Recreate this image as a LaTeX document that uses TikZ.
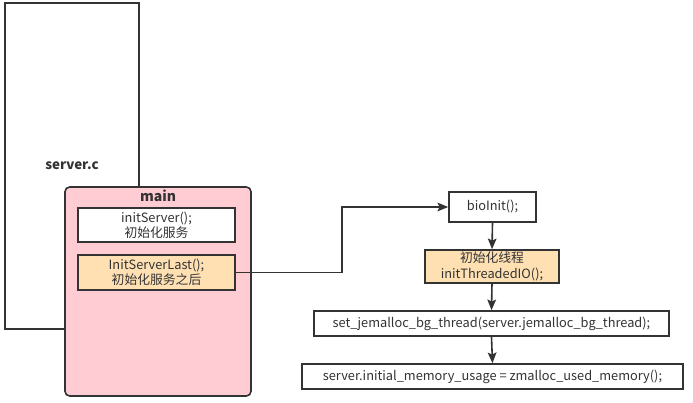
\documentclass[tikz,border=0pt]{standalone}
\usepackage{fontspec}
\setmainfont{Noto Sans CJK SC}
\usetikzlibrary{arrows.meta}
\definecolor{ln}{HTML}{333333}
\definecolor{pinkf}{HTML}{FFCCD3}
\definecolor{orf}{HTML}{FFE0B3}
\tikzset{
  box/.style={draw=ln,line width=1.2pt,rectangle,inner sep=0pt,align=center,text=ln,font=\fontsize{9.6}{11.5}\selectfont},
  arr/.style={draw=ln,line width=1.2pt,-{Stealth[length=8pt,width=6.5pt,inset=1.5pt]}},
}
\begin{document}
\begin{tikzpicture}[x=0.75pt,y=-0.75pt]
\useasboundingbox (0,0) rectangle (693,403);
\node[box,fill=white,minimum width=100.5pt,minimum height=244.5pt,font=\fontsize{10}{12}\selectfont\bfseries] (srv) at (72,166) {server.c};
\node[box,fill=pinkf,rounded corners=3.5pt,minimum width=139.5pt,minimum height=156.75pt] (main) at (158,291.5) {};
\node[text=ln,font=\fontsize{10.5}{12}\selectfont\bfseries,anchor=north,inner sep=2.2pt] (maintitle) at (main.north) {main};
\node[box,fill=white,minimum width=117.75pt,minimum height=25.5pt] (is) at (156.5,225) {initServer();\\初始化服务};
\node[box,fill=orf,minimum width=117.75pt,minimum height=26.25pt] (isl) at (156.5,272.5) {InitServerLast();\\初始化服务之后};
\node[box,fill=white,minimum width=65.25pt,minimum height=22.5pt] (bio) at (492.5,207) {bioInit();};
\node[box,fill=orf,minimum width=100.5pt,minimum height=24.75pt] (tio) at (492,266.5) {初始化线程\\initThreadedIO();};
\node[box,fill=white,minimum width=266.25pt,minimum height=18.75pt] (jem) at (491.5,323.5) {set\_jemalloc\_bg\_thread(server.jemalloc\_bg\_thread);};
\node[box,fill=white,minimum width=285.75pt,minimum height=18.75pt] (mem) at (492.5,376.5) {server.initial\_memory\_usage = zmalloc\_used\_memory();};
\coordinate (bend) at (342,272.5);
\draw[arr] (isl.east) -- (bend) |- (bio.west);
\draw[arr] (bio.south) -- (tio.north);
\draw[arr] (tio.south) -- (jem.north);
\draw[arr] (jem.south) -- (mem.north);
\end{tikzpicture}
\end{document}
